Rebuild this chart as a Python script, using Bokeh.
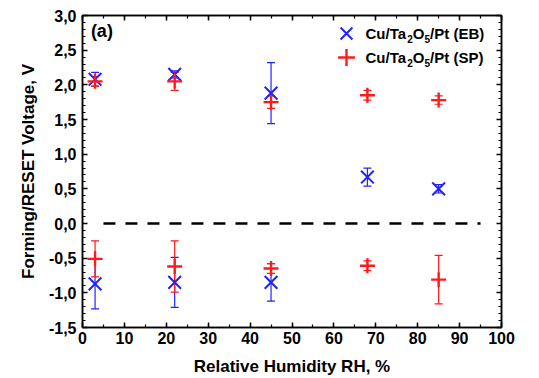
from bokeh.plotting import figure
from bokeh.models import (ColumnDataSource, Whisker, LinearAxis, Range1d, Legend, LegendItem,
                          FixedTicker, CustomJSTickFormatter, Label)
from bokeh.embed import file_html
from bokeh.resources import INLINE

# Data
rh = [3, 22, 45, 68, 85]
eb_set = [2.08, 2.15, 1.88, 0.67, 0.50]
eb_set_err = [0.10, 0.05, 0.44, 0.13, 0.06]
eb_reset = [-0.87, -0.85, -0.85]
eb_reset_err = [0.36, 0.36, 0.27]
rh_eb_reset = [3, 22, 45]
sp_set = [2.05, 2.05, 1.75, 1.85, 1.78]
sp_set_err = [0.07, 0.13, 0.09, 0.07, 0.06]
sp_reset = [-0.51, -0.62, -0.65, -0.61, -0.81]
sp_reset_err = [0.26, 0.37, 0.07, 0.07, 0.35]

x_ticks = [0, 10, 20, 30, 40, 50, 60, 70, 80, 90, 100]
y_ticks = [-1.5, -1.0, -0.5, 0.0, 0.5, 1.0, 1.5, 2.0, 2.5, 3.0]
dash_x = [5, 95]
legend_names = [("Cu/Ta", "2", "O", "5", "/Pt (EB)"), ("Cu/Ta", "2", "O", "5", "/Pt (SP)")]

BLUE = "#2222ff"
RED = "#ff1a1a"
FONT = "Liberation Sans"

p = figure(frame_width=419, frame_height=312, output_backend="svg", toolbar_location=None,
           x_range=Range1d(0, 100), y_range=Range1d(-1.5, 3.0),
           min_border_left=82, min_border_right=38, min_border_top=15, min_border_bottom=51,
           x_axis_label="Relative Humidity RH, %", y_axis_label="Forming/RESET Voltage, V")
p.grid.visible = False
p.outline_line_color = "black"
p.outline_line_width = 1.5
p.background_fill_color = "white"
p.border_fill_color = "white"

fmt = CustomJSTickFormatter(code="return tick.toFixed(1).replace('.', ',');")

def style_axis(ax, show_labels=True):
    ax.axis_line_color = "black"
    ax.axis_line_width = 1.5
    ax.major_tick_in = 5
    ax.major_tick_out = 0
    ax.minor_tick_in = 3
    ax.minor_tick_out = 0
    ax.major_tick_line_width = 1.5
    ax.minor_tick_line_width = 1.2
    ax.major_label_text_font = FONT
    ax.major_label_text_font_style = "bold"
    ax.major_label_text_font_size = "16px"
    ax.major_label_text_color = "black"
    ax.axis_label_text_font = FONT
    ax.axis_label_text_font_style = "bold"
    ax.axis_label_text_font_size = "17px"
    ax.axis_label_text_color = "black"
    if not show_labels:
        ax.major_label_text_alpha = 0
        ax.major_label_text_font_size = "0px"
        ax.major_label_standoff = 0
        ax.axis_label = None

xt = FixedTicker(ticks=x_ticks, minor_ticks=list(range(0, 101, 5)))
yt = FixedTicker(ticks=y_ticks, minor_ticks=[round(-1.5 + 0.1 * i, 1) for i in range(46)])

p.xaxis.ticker = xt
p.yaxis.ticker = yt
p.yaxis.formatter = fmt
style_axis(p.xaxis[0])
style_axis(p.yaxis[0])
p.xaxis.major_label_standoff = 4
p.xaxis.axis_label_standoff = 10
p.yaxis.major_label_standoff = 6
p.yaxis.axis_label_standoff = 8

top = LinearAxis(ticker=xt)
style_axis(top, False)
p.add_layout(top, "above")
right = LinearAxis(ticker=yt)
style_axis(right, False)
p.add_layout(right, "right")

# dashed zero line
p.line(dash_x, [0, 0], line_color="black", line_width=2.5, line_dash="12 10")

def add_err(x, y, e, color):
    src = ColumnDataSource(dict(x=x, lo=[a - b for a, b in zip(y, e)], hi=[a + b for a, b in zip(y, e)]))
    w = Whisker(base="x", lower="lo", upper="hi", source=src, line_color=color, line_width=1.2)
    for h in (w.upper_head, w.lower_head):
        h.size = 8
        h.line_color = color
        h.line_width = 1.2
    p.add_layout(w)

add_err(rh, eb_set, eb_set_err, BLUE)
add_err(rh_eb_reset, eb_reset, eb_reset_err, BLUE)
add_err(rh, sp_set, sp_set_err, RED)
add_err(rh, sp_reset, sp_reset_err, RED)

r_eb1 = p.scatter(rh, eb_set, marker="x", size=18, line_color=BLUE, line_width=2)
p.scatter(rh_eb_reset, eb_reset, marker="x", size=18, line_color=BLUE, line_width=2)
r_sp1 = p.scatter(rh, sp_set, marker="cross", size=15, line_color=RED, line_width=2.4)
p.scatter(rh, sp_reset, marker="cross", size=15, line_color=RED, line_width=2.4)

# legend markers (one legend per row, large glyph box so markers are full size)
for r, vy in ((r_eb1, 273), (r_sp1, 249)):
    lg = Legend(items=[LegendItem(label=" ", renderers=[r])], location=(243, vy),
                border_line_alpha=0, background_fill_alpha=0, label_text_font_size="1px",
                glyph_width=42, glyph_height=42, spacing=0, padding=0, margin=0, label_standoff=0)
    p.add_layout(lg)

# legend texts with subscripts
big, small = "15px", "10px"
for parts, ty in zip(legend_names, (294, 270)):
    xs = [283, 324.7, 330.3, 342.0, 347.6]
    for i, (t, tx) in enumerate(zip(parts, xs)):
        sub = i in (1, 3)
        p.add_layout(Label(x=tx, y=ty - (5 if sub else 0), x_units="screen", y_units="screen",
                           text=t, text_font=FONT, text_font_style="bold",
                           text_font_size=small if sub else big, text_baseline="middle",
                           text_color="black"))

p.add_layout(Label(x=2, y=2.78, text="(a)", text_font=FONT, text_font_style="bold",
                   text_font_size="18px", text_baseline="middle", text_color="black"))

open("out.html", "w").write(file_html(p, INLINE))
